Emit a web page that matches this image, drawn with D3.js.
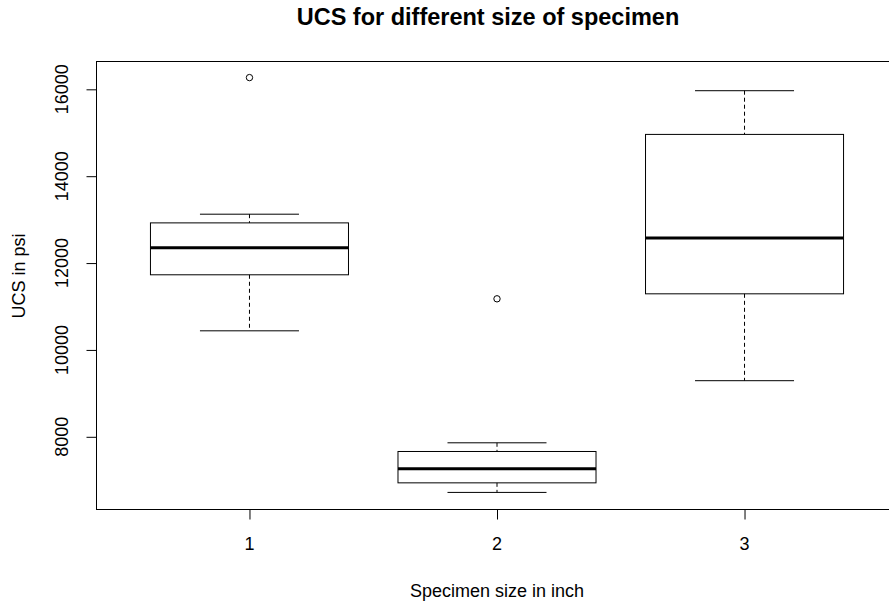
<!DOCTYPE html>
<html>
<head>
<meta charset="utf-8">
<script src="https://cdn.jsdelivr.net/npm/d3@7"></script>
<style>
  html, body { margin: 0; padding: 0; background: #fff; }
  svg text { font-family: "Liberation Sans", Arial, sans-serif; fill: #000; }
</style>
</head>
<body>
<svg id="chart" width="889" height="602"></svg>
<script>
// Five-number summaries per specimen size, plus points beyond the whiskers
const sizes      = [1, 2, 3];
const whiskerLow = [10440, 6720, 9292];
const lowerQ     = [11730, 6940, 11292];
const medians    = [12355, 7262, 12577];
const upperQ     = [12925, 7662, 14962];
const whiskerHi  = [13125, 7862, 15968];
const outliers   = [[16270], [11177], []];
const yTicks     = [8000, 10000, 12000, 14000, 16000];

const titleText = "UCS for different size of specimen";
const xTitle = "Specimen size in inch";
const yTitle = "UCS in psi";

const svg = d3.select("#chart");
const plot = { left: 96, right: 898, top: 61, bottom: 509 };

// y range padded by 4% each side, like base graphics
const allVals = whiskerLow.concat(whiskerHi, outliers.flat());
const lo = d3.min(allVals), hi = d3.max(allVals);
const pad = (hi - lo) * 0.04;
const y = d3.scaleLinear().domain([lo - pad, hi + pad]).range([plot.bottom, plot.top]);
const x = d3.scaleLinear().domain([0.5 - 0.12, 3.5 + 0.12]).range([plot.left, plot.right]);

const boxHalf = 0.4, capHalf = 0.2;
const g = svg.append("g");

sizes.forEach((s, i) => {
  const cx = x(s);
  // dashed whiskers
  g.append("line").attr("x1", cx).attr("x2", cx)
    .attr("y1", y(whiskerHi[i])).attr("y2", y(upperQ[i]))
    .attr("stroke", "#000").attr("stroke-dasharray", "4,3");
  g.append("line").attr("x1", cx).attr("x2", cx)
    .attr("y1", y(lowerQ[i])).attr("y2", y(whiskerLow[i]))
    .attr("stroke", "#000").attr("stroke-dasharray", "4,3");
  // staples
  [whiskerLow[i], whiskerHi[i]].forEach(v => {
    g.append("line").attr("x1", x(s - capHalf)).attr("x2", x(s + capHalf))
      .attr("y1", y(v)).attr("y2", y(v)).attr("stroke", "#000");
  });
  // box
  g.append("rect")
    .attr("x", x(s - boxHalf)).attr("width", x(s + boxHalf) - x(s - boxHalf))
    .attr("y", y(upperQ[i])).attr("height", y(lowerQ[i]) - y(upperQ[i]))
    .attr("fill", "none").attr("stroke", "#000");
  // median
  g.append("line").attr("x1", x(s - boxHalf)).attr("x2", x(s + boxHalf))
    .attr("y1", y(medians[i])).attr("y2", y(medians[i]))
    .attr("stroke", "#000").attr("stroke-width", 3);
  // outliers
  outliers[i].forEach(v => {
    g.append("circle").attr("cx", cx).attr("cy", y(v)).attr("r", 3.2)
      .attr("fill", "none").attr("stroke", "#000");
  });
});

// frame
svg.append("rect")
  .attr("x", plot.left + 0.5).attr("y", plot.top + 0.5)
  .attr("width", plot.right - plot.left).attr("height", plot.bottom - plot.top)
  .attr("fill", "none").attr("stroke", "#000");

// y axis
const yAxis = d3.axisLeft(y).tickValues(yTicks).tickSize(10).tickFormat(d3.format("d"));
const ya = svg.append("g").attr("transform", `translate(${plot.left + 0.5},0)`).call(yAxis);
ya.select(".domain")
  .attr("d", `M0,${y(yTicks[0])}V${y(yTicks[yTicks.length - 1])}`);
ya.selectAll("text").remove();
yTicks.forEach(t => {
  svg.append("text")
    .attr("transform", `translate(68,${y(t)}) rotate(-90)`)
    .attr("text-anchor", "middle").attr("font-size", 18).text(t);
});

// x axis
const xAxis = d3.axisBottom(x).tickValues(sizes).tickSize(10).tickFormat(d3.format("d"));
const xa = svg.append("g").attr("transform", `translate(0,${plot.bottom + 0.5})`).call(xAxis);
xa.select(".domain").attr("d", `M${x(sizes[0])},0H${x(sizes[sizes.length - 1])}`);
xa.selectAll("text").remove();
sizes.forEach(s => {
  svg.append("text").attr("x", x(s)).attr("y", 550)
    .attr("text-anchor", "middle").attr("font-size", 18).text(s);
});

// titles
svg.append("text").attr("x", 488).attr("y", 25)
  .attr("text-anchor", "middle").attr("font-size", 23.5).attr("font-weight", "bold")
  .text(titleText);
svg.append("text").attr("x", 497).attr("y", 597)
  .attr("text-anchor", "middle").attr("font-size", 18).text(xTitle);
svg.append("text").attr("transform", `translate(25,276) rotate(-90)`)
  .attr("text-anchor", "middle").attr("font-size", 18).text(yTitle);
</script>
</body>
</html>
